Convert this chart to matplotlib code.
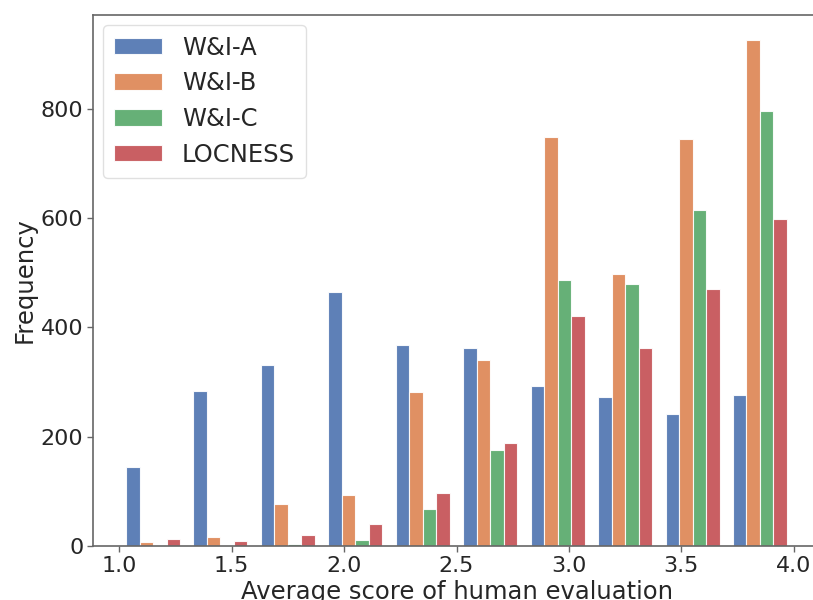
import numpy as np
import matplotlib
matplotlib.use("Agg")
import matplotlib.pyplot as plt

# Histogram counts (10 bins between 1.0 and 4.0)
bin_edges = np.linspace(1.0, 4.0, 11)
wi_a = [145, 284, 331, 465, 367, 362, 292, 273, 241, 276]
wi_b = [7, 16, 76, 93, 281, 341, 748, 497, 745, 925]
wi_c = [0, 0, 3, 11, 67, 175, 486, 480, 614, 796]
locness = [13, 9, 21, 40, 97, 188, 420, 362, 470, 598]

labels = ['W&I-A', 'W&I-B', 'W&I-C', 'LOCNESS']
colors = ['#4C72B0', '#DD8452', '#55A868', '#C44E52']

plt.rcParams['font.family'] = ['DejaVu Sans']
plt.rcParams['font.size'] = 16

fig = plt.figure(figsize=(8.13, 6.0), dpi=100)
# axes runs slightly past the right edge, like the cropped original
ax = fig.add_axes([93 / 813, 54 / 600, 727 / 813, 531 / 600])

centers = (bin_edges[:-1] + bin_edges[1:]) / 2
ax.hist([centers] * 4, bins=bin_edges, weights=[wi_a, wi_b, wi_c, locness],
        color=colors, label=labels, edgecolor='white', linewidth=0.8, alpha=0.9)

ax.set_xticks([1.0, 1.5, 2.0, 2.5, 3.0, 3.5, 4.0])
ax.set_yticks([0, 200, 400, 600, 800])
ax.tick_params(axis='both', labelsize=16, length=4, width=1, color='0.4',
               labelcolor='0.15', pad=3)
for sp in ax.spines.values():
    sp.set_color('0.4')
    sp.set_linewidth(1.2)

ax.set_xlabel('Average score of human evaluation', fontsize=17.5, color='0.15', labelpad=3)
ax.set_ylabel('Frequency', fontsize=17.5, color='0.15', labelpad=3)

leg = ax.legend(loc='upper left', fontsize=17.5, frameon=True, fancybox=True,
                handlelength=2.0, handleheight=0.68, borderpad=0.45, labelspacing=0.48,
                handletextpad=0.8, borderaxespad=0.4)
leg.get_frame().set_edgecolor('0.85')
for t in leg.get_texts():
    t.set_color('0.15')

fig.savefig('out.png', dpi=100)
